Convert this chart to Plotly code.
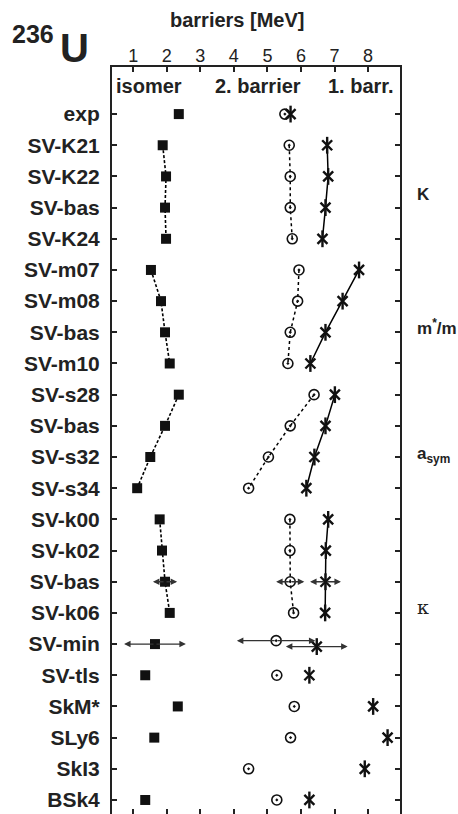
import plotly.graph_objects as go

# Fission barriers of 236U for a series of Skyrme parametrizations
models = ["exp", "SV-K21", "SV-K22", "SV-bas", "SV-K24",
          "SV-m07", "SV-m08", "SV-bas", "SV-m10",
          "SV-s28", "SV-bas", "SV-s32", "SV-s34",
          "SV-k00", "SV-k02", "SV-bas", "SV-k06",
          "SV-min", "SV-tls", "SkM*", "SLy6", "SkI3", "BSk4"]

isomer   = [2.36, 1.88, 1.98, 1.95, 1.98, 1.53, 1.83, 1.95, 2.09, 2.36, 1.95, 1.51,
            1.12, 1.79, 1.86, 1.95, 2.09, 1.65, 1.36, 2.33, 1.63, None, 1.36]
barrier2 = [5.52, 5.65, 5.68, 5.68, 5.74, 5.94, 5.90, 5.68, 5.61, 6.39, 5.68, 5.03,
            4.44, 5.67, 5.67, 5.68, 5.78, 5.26, 5.28, 5.80, 5.69, 4.44, 5.28]
barrier1 = [5.69, 6.78, 6.81, 6.73, 6.64, 7.73, 7.24, 6.73, 6.28, 7.01, 6.73, 6.40,
            6.16, 6.81, 6.74, 6.73, 6.72, 6.47, 6.25, 8.15, 8.58, 7.90, 6.25]

# parameter variation groups (first row, last row) and their labels
groups = [(1, 4), (5, 8), (9, 12), (13, 16)]
group_labels = ["K", "m<sup>*</sup>/m", "a<sub>sym</sub>", "κ"]
group_label_rows = [2.57, 6.84, 10.95, 15.8]

# extrapolation uncertainties (isomer, 2nd barrier, 1st barrier)
err_rows = [15, 17]
err_isomer = [0.36, 0.92]
err_barrier2 = [0.42, 1.17]
err_barrier1 = [0.46, 0.92]

x_ticks = [1, 2, 3, 4, 5, 6, 7, 8]

BOLD = "Liberation Sans"
INK = "#222"
rows = list(range(len(models)))
# small vertical shift of the SV-min barrier points so the arrows do not overlap
shift2 = [(-0.11 if m == "SV-min" else 0.0) for m in models]
shift1 = [(0.08 if m == "SV-min" else 0.0) for m in models]
y2 = [r + s for r, s in zip(rows, shift2)]
y1 = [r + s for r, s in zip(rows, shift1)]

fig = go.Figure()

# connecting lines inside each parameter group
for a, b in groups:
    idx = list(range(a, b + 1))
    fig.add_trace(go.Scatter(x=[isomer[i] for i in idx], y=idx, mode="lines",
                             line=dict(color="black", width=1.6, dash="3px,2px"),
                             showlegend=False, hoverinfo="skip"))
    fig.add_trace(go.Scatter(x=[barrier2[i] for i in idx], y=idx, mode="lines",
                             line=dict(color="black", width=1.5, dash="dot"),
                             showlegend=False, hoverinfo="skip"))
    fig.add_trace(go.Scatter(x=[barrier1[i] for i in idx], y=idx, mode="lines",
                             line=dict(color="black", width=1.5),
                             showlegend=False, hoverinfo="skip"))

# markers
fig.add_trace(go.Scatter(x=isomer, y=rows, mode="markers", name="isomer",
                         marker=dict(symbol="square", size=10, color="#111"),
                         showlegend=False))
fig.add_trace(go.Scatter(x=barrier2, y=y2, mode="markers", name="2. barrier",
                         marker=dict(symbol="circle-open-dot", size=10, color="#111",
                                     line=dict(width=1.6)),
                         showlegend=False))
fig.add_trace(go.Scatter(x=barrier1, y=y1, mode="markers", name="1. barr.",
                         marker=dict(symbol="x-thin-open", size=10, color="#111",
                                     line=dict(width=2.4)),
                         showlegend=False))
fig.add_trace(go.Scatter(x=barrier1, y=y1, mode="markers", hoverinfo="skip",
                         marker=dict(symbol="line-ns-open", size=12, color="#111",
                                     line=dict(width=2.4)),
                         showlegend=False))

# bottom ticks (no axis line)
fig.add_trace(go.Scatter(x=[x_ticks[0]], y=[0], xaxis="x2", mode="markers",
                         marker=dict(opacity=0), showlegend=False, hoverinfo="skip"))

# double-headed uncertainty arrows
annotations = []
for k, r in enumerate(err_rows):
    for xc, e, yy in ((isomer[r], err_isomer[k], rows[r]),
                      (barrier2[r], err_barrier2[k], y2[r]),
                      (barrier1[r], err_barrier1[k], y1[r])):
        for sgn in (-1, 1):
            annotations.append(dict(x=xc + sgn * e, y=yy, ax=xc, ay=yy,
                                    xref="x", yref="y", axref="x", ayref="y",
                                    showarrow=True, arrowhead=2, arrowsize=1.0,
                                    arrowwidth=1.3, arrowcolor="#333", text=""))

W, H = 458, 814
L, R, T, B = 112, 58, 67, 0


def px_x(p):
    return (p - L) / (W - L - R)


def px_y(p):
    return 1 - (p - T) / (H - T - B)


def label(txt, xp, yp, size, family=BOLD):
    return dict(x=px_x(xp), y=px_y(yp), xref="paper", yref="paper", text=txt,
                showarrow=False, xanchor="center", yanchor="middle",
                font=dict(family=family, size=size, color=INK))


# column headers inside the frame
for txt, xc in (("isomer", 149), ("2. barrier", 258), ("1. barr.", 361)):
    annotations.append(label(f"<b>{txt}</b>", xc, 86, 20))

# group labels on the right
for lab, yr in zip(group_labels, group_label_rows):
    is_kappa = lab == "κ"
    annotations.append(dict(x=px_x(415), y=yr, xref="paper", yref="y",
                            text=lab if is_kappa else f"<b>{lab}</b>",
                            showarrow=False, xanchor="left", yanchor="middle",
                            font=dict(family="DejaVu Serif" if is_kappa else BOLD,
                                      size=19 if is_kappa else 17, color=INK)))

# axis title and nucleus label
annotations.append(label("<b>barriers [MeV]</b>", 237, 20, 20))
annotations.append(label("<b>236</b>", 33, 34, 25))
annotations.append(label("<b>U</b>", 74, 48, 40))

xr = [0.37, 8.95]
fig.update_layout(
    width=W, height=H, margin=dict(l=L, r=R, t=T, b=B),
    paper_bgcolor="white", plot_bgcolor="white",
    annotations=annotations,
    xaxis=dict(side="top", range=xr, tickvals=x_ticks, ticks="inside", ticklen=5,
               tickwidth=1.5, tickcolor=INK, showline=True, linewidth=2,
               linecolor=INK, showgrid=False, zeroline=False,
               tickfont=dict(family=BOLD, size=18, color=INK),
               ticklabelstandoff=-4),
    xaxis2=dict(overlaying="x", side="bottom", range=xr, tickvals=x_ticks,
                ticks="inside", ticklen=5, tickwidth=1.5, tickcolor=INK,
                showline=False, showgrid=False, zeroline=False, showticklabels=False),
    yaxis=dict(range=[22.45, -1.51], tickvals=rows, ticktext=[f"<b>{m}</b>" for m in models],
               ticks="inside", ticklen=5, tickwidth=1.5, tickcolor=INK,
               showline=True, linewidth=2, linecolor=INK, mirror="ticks",
               showgrid=False, zeroline=False,
               tickfont=dict(family=BOLD, size=21, color=INK),
               ticklabelstandoff=6),
)

fig.write_html("out.html")
